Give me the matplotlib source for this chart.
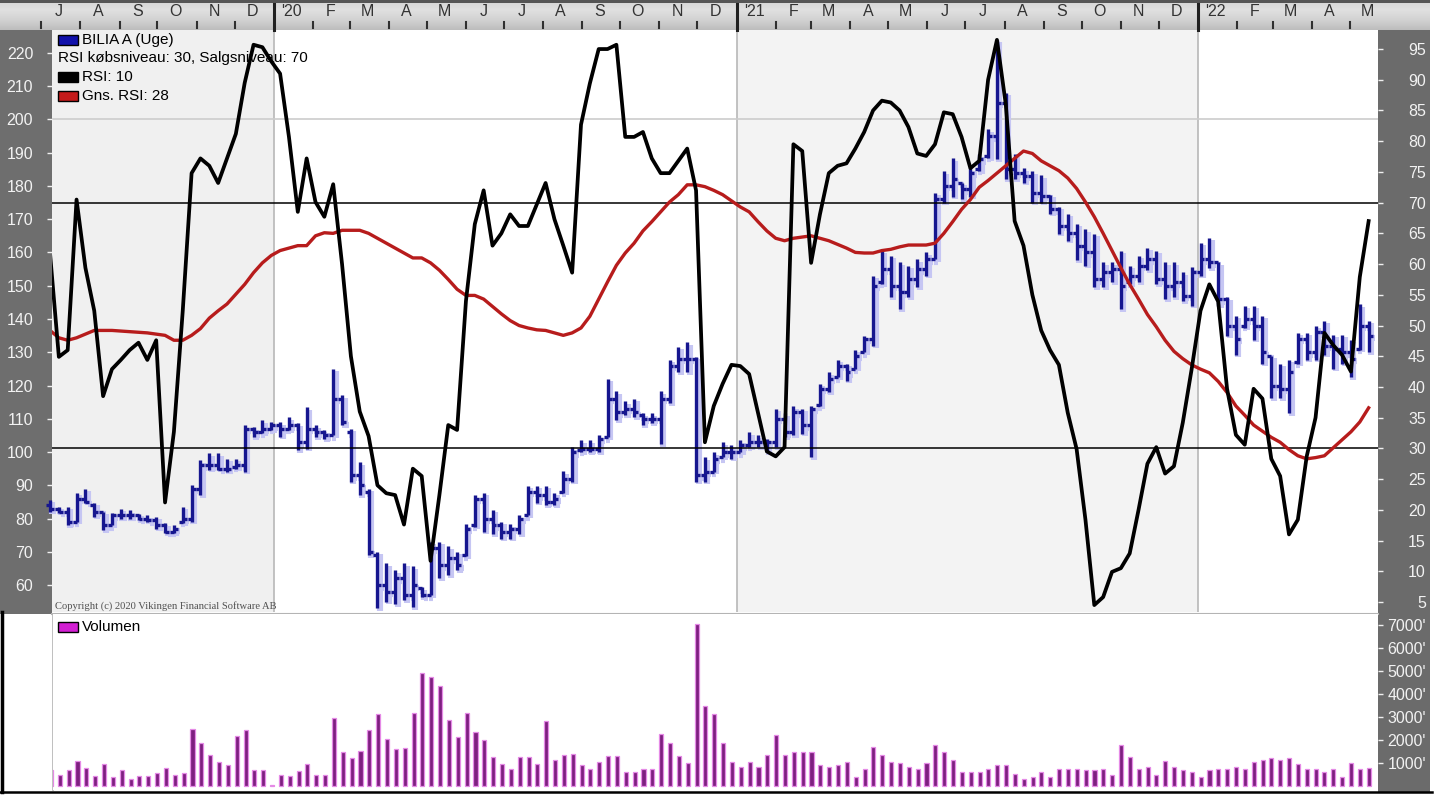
import matplotlib
matplotlib.use('Agg')
import matplotlib.pyplot as plt
import numpy as np
import pandas as pd
from matplotlib.collections import LineCollection
from matplotlib.patches import Rectangle
from matplotlib.colors import LinearSegmentedColormap
import matplotlib.transforms as mtransforms

plt.rcParams['font.family'] = ['Liberation Sans', 'DejaVu Sans']

# ---------------- data ----------------
start_date = '2019-07-08'
n_weeks = 150

high = [85.6, 83.5, 83.5, 87.7, 89, 84.7, 82, 81.7, 83, 82.5,
        81.5, 81, 80.5, 78.6, 78, 83.5, 90, 97.6, 99.7, 99.7,
        98, 98, 108, 107.5, 109.6, 109, 109, 110.5, 108.7, 113.5,
        108, 106.6, 125, 117, 107, 97, 89, 70, 66.6, 64.5,
        66.6, 65.7, 59.4, 73, 73, 71.7, 70, 78.3, 87, 87.7,
        82.6, 79, 78.3, 81, 89.8, 89.8, 89.8, 87.7, 94.2, 101.5,
        103.6, 103.6, 105, 122, 118.3, 115.3, 116, 111.7, 111.7, 118.3,
        127.7, 131.6, 133, 128.6, 98.5, 100, 103, 102, 103.6, 106,
        105, 104, 113, 111.7, 113.8, 113, 113.8, 120.5, 124, 127.7,
        126.5, 130.7, 135, 153, 160.5, 159, 157, 156, 158, 160,
        178, 184.5, 188.4, 181, 185.4, 189.6, 197, 224, 208, 189.6,
        185.4, 184.5, 183.3, 177.3, 173.7, 171.6, 168.6, 167, 165.6, 157,
        157, 160.5, 156, 159, 161.4, 160.5, 157, 157, 154, 155.6,
        163, 164.4, 157, 146.6, 141, 144, 144, 141, 129, 126.5,
        127.7, 135.8, 135.8, 138, 139.4, 135.2, 135.2, 133.7, 144.5, 139.4]
low = [82, 81.7, 78, 79, 84.7, 80.5, 76.5, 78, 80, 80,
       79.5, 79, 77, 75.6, 75.6, 78.6, 79, 87, 94.6, 94.6,
       94, 95, 94, 104.5, 105.7, 106.5, 104.6, 106.5, 100.6, 101,
       104.5, 103.9, 105, 108, 91, 87, 69, 53, 55, 54.3,
       55.5, 53.4, 56.4, 57, 62, 63, 64.5, 68.7, 77.5, 76,
       75.3, 74, 74, 75.3, 81, 84.7, 84, 84, 87.7, 91,
       100, 100, 100, 104.5, 109.6, 111, 110.5, 108, 108.6, 102.4,
       114.7, 124, 124, 91, 91, 94, 98.5, 98, 100, 101.5,
       101.5, 100, 101.5, 104.5, 105, 105.5, 98.5, 113.8, 118, 122.5,
       121.4, 125, 130, 132, 150.5, 146.6, 143, 146.6, 149.6, 153,
       158, 175, 176.7, 176, 176.7, 184.5, 188.4, 188, 182, 182,
       181, 175, 175, 171.6, 165.6, 163.5, 157.7, 156, 149.6, 149.6,
       151, 143, 150.5, 151, 154.7, 150.5, 146, 146.6, 145.4, 144,
       153, 155.3, 144, 135, 129.2, 137.3, 133.7, 126.5, 116.2, 116.2,
       111.7, 126.5, 127.7, 127.7, 129.2, 125, 126.5, 122.5, 130.7, 130]
open_ = [84, 83, 82, 79, 86, 84, 82, 78, 81, 81,
         81, 80, 79.5, 78, 76, 79, 80, 89, 96, 96,
         95, 95.5, 96, 107, 106, 107, 108, 107, 108, 103,
         107, 106, 105, 116, 106, 93, 88, 69, 60, 58,
         62, 57, 59, 57, 71, 66, 68, 69, 78, 86,
         80, 78, 76, 77, 81, 88, 87, 85, 88, 92,
         100.5, 101, 101, 104.5, 116, 112, 113, 111, 110, 110,
         116, 126, 128, 128, 93, 94, 98.5, 100, 100, 102,
         103, 103, 103, 110, 106, 112, 108, 114, 119, 122.5,
         126, 125, 130, 134, 151, 155, 150, 148, 152, 155,
         158, 176, 180, 181, 179, 185, 189, 195, 205, 185,
         184, 183, 178, 177, 173, 168, 166, 162, 160, 152,
         154, 155, 151, 153, 156, 158, 152, 150, 151, 147,
         154, 158, 157, 146, 138, 138, 140, 138, 129, 120,
         119, 127, 134, 130, 136, 132, 131, 130, 131, 138]
close = [83, 82, 79, 86, 85, 82, 78, 81, 81, 81,
         80, 79.5, 78, 76, 77, 80, 89, 96, 96, 95,
         95, 96, 107, 106, 107, 108, 107, 108, 103, 107,
         106, 105, 116, 109, 93, 90, 70, 60, 58, 62,
         57, 60, 57, 71, 66, 68, 66, 77, 86, 80,
         78, 76, 77, 80, 88, 87, 85, 86, 92, 100,
         101, 101, 104, 116, 112, 113, 112, 110, 110, 116,
         126, 128, 128, 93, 94, 98, 100, 100, 102, 103,
         103, 103, 110, 106, 112, 108, 113, 119, 122, 126,
         124, 129, 134, 150, 155, 150, 148, 152, 155, 158,
         176, 180, 182, 179, 184, 188, 195, 205, 185, 184,
         183, 178, 177, 173, 168, 166, 162, 160, 152, 154,
         155, 150, 153, 156, 158, 152, 150, 151, 147, 154,
         158, 157, 146, 138, 134, 140, 138, 130, 120, 119,
         124, 134, 130, 136, 132, 131, 130, 128, 138, 135]

rsi = [61.8, 44.9, 46, 70.5, 59.4, 52.4, 38.5, 42.9, 44.4, 46,
       47.2, 44.4, 47.6, 21.2, 32.7, 52.4, 74.8, 77.2, 76, 73.2,
       77.2, 81.2, 89.5, 95.7, 95.3, 93, 91, 80.7, 68.5, 77.2,
       70.1, 67.7, 73, 60, 45, 36, 32, 24, 22.7, 22.4,
       17.6, 26.7, 25.5, 11.7, 22.4, 33.8, 33, 54, 66.5, 72,
       63, 65, 68.1, 66.2, 66.2, 69.7, 73.2, 67.3, 63, 58.6,
       82.7, 89.4, 95, 95, 95.7, 80.7, 80.7, 81.5, 77.2, 74.8,
       74.8, 76.8, 78.8, 72, 31, 36.9, 40.5, 43.6, 43.4, 42.1,
       35.8, 29.5, 28.7, 30.2, 79.5, 78.4, 60.2, 68.1, 74.8, 76,
       76.4, 78.8, 81.5, 85, 86.6, 86.3, 85, 82.3, 78, 77.6,
       79.5, 84.7, 84.4, 80.7, 75.6, 76.8, 90, 96.5, 86, 67,
       63, 55, 49.2, 46, 43.6, 35.8, 29.9, 18.4, 4.5, 5.8,
       9.9, 10.5, 12.9, 20, 27.5, 30.2, 25.9, 27.1, 34.2, 42.9,
       52.4, 56.7, 53.9, 39.7, 32.2, 30.6, 39.7, 38.1, 28.3, 25.5,
       16, 18.4, 28.7, 35, 48.8, 46.8, 45.2, 42.5, 57.9, 67]

rsi_avg = [49.2, 48, 47.6, 48, 48.6, 49.2, 49.2, 49.2, 49.1, 49,
           48.9, 48.8, 48.6, 48.4, 47.6, 47.6, 48.4, 49.5, 51.2, 52.4,
           53.5, 55.1, 56.7, 58.6, 60.2, 61.4, 62.2, 62.6, 63, 63,
           64.6, 65.1, 65, 65.5, 65.5, 65.5, 65, 64.2, 63.4, 62.6,
           61.8, 61, 61, 60.2, 59, 57.5, 55.9, 54.9, 54.9, 54.3,
           53.1, 51.9, 50.8, 50, 49.6, 49.3, 49.2, 48.8, 48.4, 48.8,
           49.6, 51.5, 54.3, 57.1, 59.8, 61.8, 63.4, 65.4, 66.9, 68.5,
           70.1, 71.3, 72.9, 72.9, 72.6, 72, 71.3, 70.3, 69.3, 68.5,
           66.9, 65.4, 64.2, 63.8, 64.2, 64.4, 64.6, 64.2, 63.8, 63.2,
           62.6, 61.9, 61.8, 61.8, 62.2, 62.4, 62.8, 63.1, 63.1, 63.1,
           63.4, 65, 66.9, 68.9, 70.5, 72.5, 73.6, 74.8, 76, 77.2,
           78.4, 78, 76.8, 76, 75.2, 74, 72.3, 70.1, 67.7, 65,
           62.2, 59.4, 56.7, 54.3, 51.8, 49.8, 47.6, 45.8, 44.6, 43.6,
           42.9, 42.3, 40.9, 39.1, 36.9, 35.4, 33.8, 32.8, 31.8, 31,
           29.8, 28.8, 28.3, 28.5, 28.8, 30.1, 31.4, 32.7, 34.3, 36.6]

volume_k = [0.70, 0.5, 0.7, 1.09, 0.77, 0.45, 0.96, 0.38, 0.7, 0.3,
            0.45, 0.45, 0.58, 0.77, 0.5, 0.58, 2.49, 1.86, 1.35, 1.03,
            0.9, 2.17, 2.43, 0.7, 0.7, 0.05, 0.5, 0.45, 0.64, 0.96,
            0.5, 0.5, 2.94, 1.47, 1.22, 1.53, 2.43, 3.13, 2.04, 1.6,
            1.67, 3.19, 4.93, 4.72, 4.35, 2.87, 2.12, 3.19, 2.36, 1.99,
            1.28, 0.94, 0.74, 1.26, 1.26, 0.94, 2.84, 1.15, 1.37, 1.4,
            0.9, 0.74, 1.05, 1.32, 1.32, 0.63, 0.63, 0.74, 0.74, 2.25,
            1.89, 1.32, 1.0, 7.05, 3.5, 3.15, 1.89, 1.04, 0.85, 1.04,
            0.85, 1.37, 2.2, 1.37, 1.47, 1.47, 1.5, 0.9, 0.85, 0.9,
            1.04, 0.41, 0.74, 1.68, 1.37, 1.04, 1.0, 0.85, 0.74, 1.0,
            1.78, 1.5, 1.15, 0.63, 0.63, 0.63, 0.74, 0.9, 0.9, 0.52,
            0.3, 0.4, 0.63, 0.4, 0.74, 0.74, 0.74, 0.7, 0.7, 0.74,
            0.5, 1.78, 1.26, 0.74, 0.85, 0.5, 1.1, 0.85, 0.7, 0.63,
            0.4, 0.7, 0.74, 0.74, 0.85, 0.74, 1.05, 1.15, 1.2, 1.15,
            1.2, 0.95, 0.74, 0.74, 0.63, 0.74, 0.4, 1.0, 0.74, 0.8]

price_ticks = list(range(60, 230, 10))
rsi_ticks = list(range(5, 100, 5))
vol_ticks = [1000, 2000, 3000, 4000, 5000, 6000, 7000]
vol_tick_labels = ["1000'", "2000'", "3000'", "4000'", "5000'", "6000'", "7000'"]
month_initials = ['J', 'F', 'M', 'A', 'M', 'J', 'J', 'A', 'S', 'O', 'N', 'D']
legend_texts = ['BILIA A (Uge)', 'RSI købsniveau: 30, Salgsniveau: 70', 'RSI: 10', 'Gns. RSI: 28']
volume_label = 'Volumen'
copyright_text = 'Copyright (c) 2020 Vikingen Financial Software AB'

# ---------------- layout ----------------
W, H = 1440, 808
fig = plt.figure(figsize=(W / 100, H / 100), dpi=100)
fig.patch.set_facecolor('white')

dates = pd.date_range(start_date, periods=n_weeks, freq='7D')
d0 = dates[0]
x = np.arange(n_weeks)
px_per_week = 8.85
xl = (52 - 50) / px_per_week
xlim = (xl, xl + 1326 / px_per_week)


def date_pos(d):
    return (pd.Timestamp(d) - d0).days / 7.0


# background axes in pixel coordinates
bg = fig.add_axes([0, 0, 1, 1], zorder=0)
grad = np.linspace(0, 1, 60).reshape(-1, 1)
cmap = LinearSegmentedColormap.from_list('strip', ['#d4d4d4', '#e0e0e0', '#d2d2d2', '#bdbdbd'])
bg.imshow(grad, extent=(0, 1430, 30, 0), aspect='auto', cmap=cmap, interpolation='bilinear')
bg.add_patch(Rectangle((0, 0), 1430, 2.5, color='#555555', lw=0))
bg.add_patch(Rectangle((0, 30), 52, 584, color='#6e6e6e', lw=0))
bg.add_patch(Rectangle((1378, 30), 52, 762, color='#6b6b6b', lw=0))
bg.plot([1.5, 1.5], [612, 792], color='black', lw=2.5)
bg.plot([0, 1432], [791.5, 791.5], color='black', lw=1.8)
bg.plot([52, 1378], [613.5, 613.5], color='#b4b4b4', lw=1.5)
bg.plot([52.5, 52.5], [614, 790], color='#b4b4b4', lw=1.2)
bg.set_xlim(0, W)
bg.set_ylim(H, 0)
bg.axis('off')

# main price/RSI axes
ax = fig.add_axes([52 / W, 1 - 612 / H, 1326 / W, 582 / H], zorder=2)
ax.set_facecolor('white')
ax.set_xlim(*xlim)
ax.set_ylim(51.9, 226.9)
year_starts = ['2020-01-01', '2021-01-01', '2022-01-01']
ax.axvspan(xlim[0], date_pos(year_starts[0]), color='#f0f0f0', lw=0, zorder=0)
ax.axvspan(date_pos(year_starts[1]), date_pos(year_starts[2]), color='#f3f3f3', lw=0, zorder=0)
for ys in year_starts:
    ax.axvline(date_pos(ys), color='#b8b8b8', lw=1.2, zorder=0.5)
ax.axhline(200, color='#cccccc', lw=1.2, zorder=0.5)

# OHLC bars
tick_len = 0.45
segs = []
for i in range(n_weeks):
    segs.append([(x[i], low[i]), (x[i], high[i])])
    segs.append([(x[i] - tick_len, open_[i]), (x[i], open_[i])])
    segs.append([(x[i], close[i]), (x[i] + tick_len, close[i])])
shadow_tr = mtransforms.offset_copy(ax.transData, fig=fig, x=2.5, y=-2.5, units='dots')
shadow = LineCollection(segs, colors='#c6c6f3', linewidths=4.4, capstyle='butt',
                        transform=shadow_tr, zorder=1, clip_on=False)
ax.add_collection(shadow)
bars = LineCollection(segs, colors='#16168f', linewidths=2.4, capstyle='butt', zorder=2, clip_on=False)
ax.add_collection(bars)

ax.set_xticks([])
for s in ax.spines.values():
    s.set_visible(False)
ax.set_yticks(price_ticks)
ax.set_yticklabels([str(t) for t in price_ticks])
ax.tick_params(axis='y', which='both', direction='out', length=3.5, width=1,
               color='#f0f0f0', labelcolor='#f2f2f2', labelsize=11.5, pad=10)

# RSI axis
ax2 = ax.twinx()
ax2.set_xlim(*xlim)
ax2.set_ylim(3.37, 98.1)
ax2.axhline(30, color='black', lw=1.1)
ax2.axhline(70, color='black', lw=1.1)
ax2.plot(x, rsi_avg, color='#b71c1c', lw=2.4, solid_joinstyle='round', zorder=3)
ax2.plot(x, rsi, color='black', lw=2.7, solid_joinstyle='round', zorder=4)
for s in ax2.spines.values():
    s.set_visible(False)
ax2.set_yticks(rsi_ticks)
ax2.set_yticklabels([str(t) for t in rsi_ticks])
ax2.tick_params(axis='y', which='both', direction='out', length=3.5, width=1,
                color='#f0f0f0', labelcolor='#f2f2f2', labelsize=11.5, pad=31)
for lab in ax2.get_yticklabels():
    lab.set_horizontalalignment('right')

# volume axes
axv = fig.add_axes([53 / W, 1 - 790 / H, 1325 / W, 176 / H], zorder=2)
axv.set_facecolor('white')
axv.set_xlim(*xlim)
axv.set_ylim(-170, 7480)
vol = [v * 1000 for v in volume_k]
axv.bar(x, vol, width=0.46, color='#7e1f80', edgecolor='#e58ae6', linewidth=0.9, zorder=2)
axv.set_xticks([])
for s in axv.spines.values():
    s.set_visible(False)
axv.yaxis.tick_right()
axv.set_yticks(vol_ticks)
axv.set_yticklabels(vol_tick_labels)
axv.tick_params(axis='y', which='both', direction='out', length=3.5, width=1,
                color='#f0f0f0', labelcolor='#f2f2f2', labelsize=11.5, pad=31)
for lab in axv.get_yticklabels():
    lab.set_horizontalalignment('right')

# top month strip
axt = fig.add_axes([52 / W, 1 - 30 / H, 1326 / W, 30 / H], zorder=3)
axt.set_xlim(*xlim)
axt.set_ylim(30, 0)
axt.axis('off')
months = pd.date_range('2019-07-01', '2022-05-01', freq='MS')
for m in months:
    p0 = date_pos(m)
    mid = date_pos(m + pd.Timedelta(days=14))
    if m.month == 1:
        lab = "'" + str(m.year)[2:]
        axt.plot([p0, p0], [4, 30], color='#202020', lw=2.2, clip_on=False)
    else:
        lab = month_initials[m.month - 1]
        axt.plot([p0, p0], [22, 28], color='#303030', lw=1.5, clip_on=False)
    axt.text(mid, 12, lab, ha='center', va='center', fontsize=11.5, color='#333333', clip_on=False)

# overlay: legends and copyright
ov = fig.add_axes([0, 0, 1, 1], zorder=10)
ov.set_xlim(0, W)
ov.set_ylim(H, 0)
ov.axis('off')
ov.patch.set_alpha(0)
patch_colors = ['#1010aa', None, '#000000', '#c41a1a']
ys = [40, 58, 77, 96]
for txt, pc, yy in zip(legend_texts, patch_colors, ys):
    if pc is None:
        ov.text(58, yy, txt, ha='left', va='center', fontsize=11, color='black')
    else:
        ov.add_patch(Rectangle((58, yy - 5), 20, 10, facecolor=pc, edgecolor='black', lw=1))
        ov.text(82, yy, txt, ha='left', va='center', fontsize=11, color='black')
ov.add_patch(Rectangle((58, 622), 20, 10, facecolor='#d21fd2', edgecolor='black', lw=1))
ov.text(82, 627, volume_label, ha='left', va='center', fontsize=11, color='black')
ov.text(55, 606, copyright_text, ha='left', va='center', fontsize=7.6, color='#505050',
        family=['Liberation Serif', 'DejaVu Serif'])

fig.savefig('out.png', dpi=100)
